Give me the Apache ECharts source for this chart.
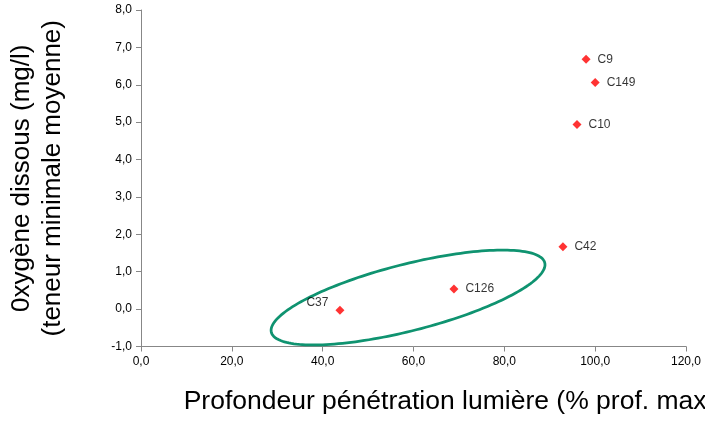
<!DOCTYPE html>
<html>
<head>
<meta charset="utf-8">
<script src="https://cdn.jsdelivr.net/npm/echarts@6/dist/echarts.min.js"></script>
<style>
html,body{margin:0;padding:0;background:#fff;}
#chart{width:705px;height:422px;}
</style>
</head>
<body>
<div id="chart"></div>
<script>
// ---- data ----
const stationNames = ['C9', 'C149', 'C10', 'C42', 'C126', 'C37'];
const lightDepth   = [98.0, 100.0, 96.0, 92.9, 68.9, 43.8];   // % prof. max
const oxygenMin    = [6.68, 6.06, 4.94, 1.67, 0.54, -0.03];   // mg/l
const xTickLabels  = ['0,0', '20,0', '40,0', '60,0', '80,0', '100,0', '120,0'];
const yTickLabels  = ['-1,0', '0,0', '1,0', '2,0', '3,0', '4,0', '5,0', '6,0', '7,0', '8,0'];
// ellipse annotation: ends of its major axis in data units
const ellipseMajorEnds = [[28.7, -0.62], [88.9, 1.24]];

const X_MIN = 0, X_MAX = 120, X_STEP = 20;
const Y_MIN = -1, Y_MAX = 8, Y_STEP = 1;
const ELLIPSE_MINOR_PX = 33.3;

const points = stationNames.map((n, i) => ({
  name: n,
  value: [lightDepth[i], oxygenMin[i]],
  label: n === 'C37' ? { position: 'left', offset: [0, -8] } : undefined
}));

const chart = echarts.init(document.getElementById('chart'), null, { renderer: 'canvas' });
const FONT = 'Liberation Sans, Arial, sans-serif';

chart.setOption({
  animation: false,
  backgroundColor: '#ffffff',
  grid: { left: 141, right: 19, top: 10, bottom: 75.5, containLabel: false, outerBoundsMode: 'none' },
  xAxis: {
    type: 'value', min: X_MIN, max: X_MAX, interval: X_STEP,
    splitLine: { show: false },
    axisLine: { show: true, onZero: false, lineStyle: { color: '#878787', width: 1 } },
    axisTick: { show: true, length: 5, lineStyle: { color: '#878787' } },
    axisLabel: {
      margin: 9, color: '#000', fontFamily: FONT, fontSize: 12,
      formatter: v => xTickLabels[Math.round((v - X_MIN) / X_STEP)]
    },
    name: 'Profondeur pénétration lumière (% prof. max)',
    nameLocation: 'middle', nameGap: 40,
    nameTextStyle: { fontFamily: FONT, fontSize: 26.5, color: '#000', lineHeight: 31, padding: [0, 0, 0, 72] }
  },
  yAxis: {
    type: 'value', min: Y_MIN, max: Y_MAX, interval: Y_STEP,
    splitLine: { show: false },
    axisLine: { show: true, onZero: false, lineStyle: { color: '#878787', width: 1 } },
    axisTick: { show: true, length: 5, lineStyle: { color: '#878787' } },
    axisLabel: {
      margin: 9, color: '#000', fontFamily: FONT, fontSize: 12,
      formatter: v => yTickLabels[Math.round((v - Y_MIN) / Y_STEP)]
    },
    name: '0xygène dissous (mg/l)\n(teneur minimale moyenne)',
    nameLocation: 'middle', nameRotate: 90, nameGap: 73,
    nameTextStyle: { fontFamily: FONT, fontSize: 26, color: '#000', lineHeight: 31 }
  },
  series: [
    {
      type: 'scatter',
      symbol: 'diamond',
      symbolSize: 9,
      itemStyle: { color: '#ff0000' },
      label: {
        show: true, position: 'right', distance: 7,
        formatter: p => p.name,
        color: '#000', fontFamily: FONT, fontSize: 12
      },
      data: points,
      z: 3
    },
    {
      type: 'custom',
      silent: true,
      clip: false,
      z: 2,
      data: [ellipseMajorEnds[0].concat(ellipseMajorEnds[1])],
      encode: { x: [0, 2], y: [1, 3] },
      renderItem: function (params, api) {
        const p1 = api.coord([api.value(0), api.value(1)]);
        const p2 = api.coord([api.value(2), api.value(3)]);
        const cx = (p1[0] + p2[0]) / 2, cy = (p1[1] + p2[1]) / 2;
        const a = Math.hypot(p2[0] - p1[0], p2[1] - p1[1]) / 2;
        const phi = Math.atan2(p2[1] - p1[1], p2[0] - p1[0]);
        const b = ELLIPSE_MINOR_PX;
        const pts = [];
        for (let k = 0; k < 180; k++) {
          const t = k / 180 * Math.PI * 2;
          pts.push([
            cx + a * Math.cos(t) * Math.cos(phi) - b * Math.sin(t) * Math.sin(phi),
            cy + a * Math.cos(t) * Math.sin(phi) + b * Math.sin(t) * Math.cos(phi)
          ]);
        }
        return {
          type: 'polygon',
          shape: { points: pts },
          style: { fill: 'none', stroke: '#0f9370', lineWidth: 2.75 }
        };
      }
    }
  ]
});
</script>
</body>
</html>
